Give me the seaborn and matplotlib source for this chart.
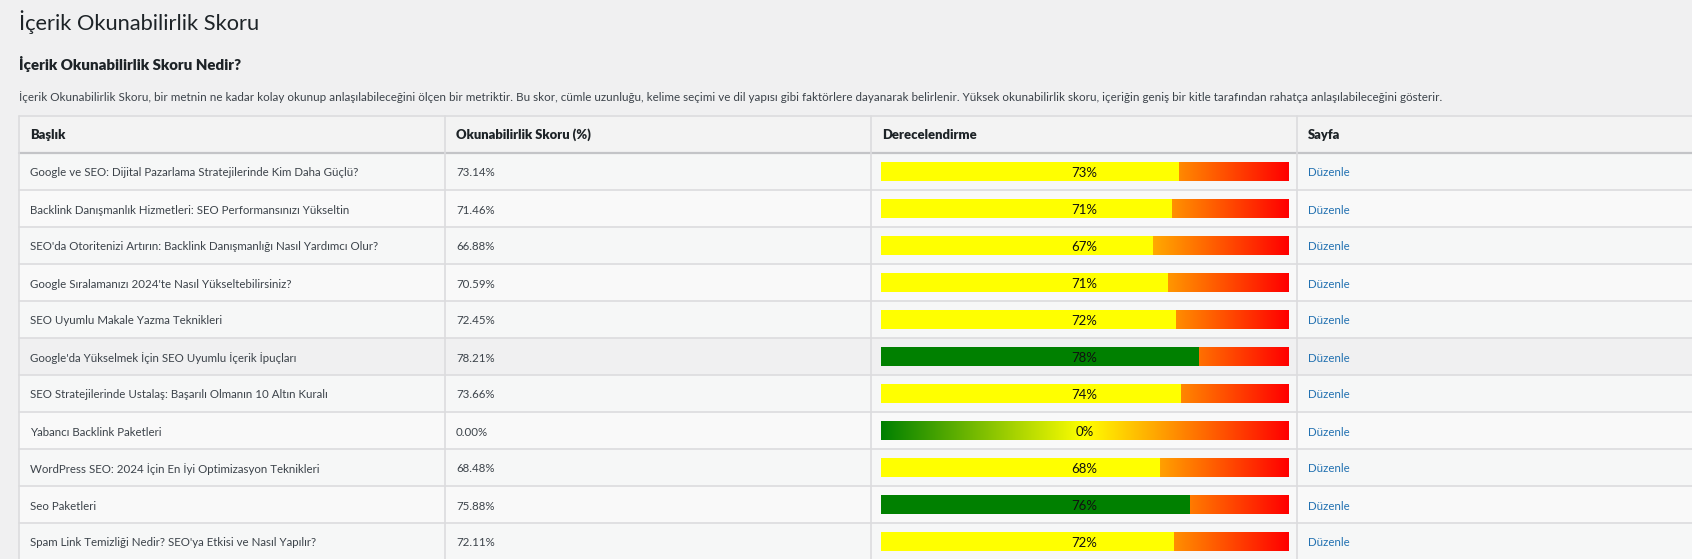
import numpy as np
import pandas as pd
import matplotlib
matplotlib.use("Agg")
import matplotlib.pyplot as plt
from matplotlib.colors import LinearSegmentedColormap
import seaborn as sns

# ---- data ----
page_title = "İçerik Okunabilirlik Skoru"
section_title = "İçerik Okunabilirlik Skoru Nedir?"
description = ("İçerik Okunabilirlik Skoru, bir metnin ne kadar kolay okunup anlaşılabileceğini ölçen bir metriktir. "
               "Bu skor, cümle uzunluğu, kelime seçimi ve dil yapısı gibi faktörlere dayanarak belirlenir. "
               "Yüksek okunabilirlik skoru, içeriğin geniş bir kitle tarafından rahatça anlaşılabileceğini gösterir.")
headers = ["Başlık", "Okunabilirlik Skoru (%)", "Derecelendirme", "Sayfa"]
titles = [
    "Google ve SEO: Dijital Pazarlama Stratejilerinde Kim Daha Güçlü?",
    "Backlink Danışmanlık Hizmetleri: SEO Performansınızı Yükseltin",
    "SEO'da Otoritenizi Artırın: Backlink Danışmanlığı Nasıl Yardımcı Olur?",
    "Google Sıralamanızı 2024'te Nasıl Yükseltebilirsiniz?",
    "SEO Uyumlu Makale Yazma Teknikleri",
    "Google'da Yükselmek İçin SEO Uyumlu İçerik İpuçları",
    "SEO Stratejilerinde Ustalaş: Başarılı Olmanın 10 Altın Kuralı",
    "Yabancı Backlink Paketleri",
    "WordPress SEO: 2024 İçin En İyi Optimizasyon Teknikleri",
    "Seo Paketleri",
    "Spam Link Temizliği Nedir? SEO'ya Etkisi ve Nasıl Yapılır?",
]
scores = [73.14, 71.46, 66.88, 70.59, 72.45, 78.21, 73.66, 0.00, 68.48, 75.88, 72.11]
link_text = "Düzenle"

df = pd.DataFrame({"title": titles, "score": scores})
df["label"] = df["score"].round().astype(int).astype(str) + "%"
df["fill"] = np.where(df["score"] >= 75, "#008000", "#ffff00")

# ---- figure / style ----
W, H = 1692, 559
sns.set_theme(style="white")
plt.rcParams["font.family"] = ["Lato", "DejaVu Sans"]

page_bg = "#f0f0f1"
fig = plt.figure(figsize=(W / 100, H / 100), dpi=100, facecolor=page_bg)
ax = fig.add_axes([0, 0, 1, 1])
ax.set_xlim(0, W)
ax.set_ylim(H, 0)
ax.axis("off")

# table geometry (pixels)
left, top, col_w, row_h = 19, 116, 426, 37
col_x = [left + i * col_w for i in range(5)]
n = len(df)
body_top = top + row_h

# header + rows backgrounds
ax.add_patch(plt.Rectangle((left, top), W, row_h, color="#f3f3f3", lw=0))
for i in range(n):
    c = "#f6f7f7" if i % 2 == 0 else "#f9f9f9"
    if i == 5:
        c = "#f0f0f1"
    ax.add_patch(plt.Rectangle((left, body_top + i * row_h), W, row_h, color=c, lw=0))

# grid lines
ax.plot([left, W], [top, top], color="#dcdcde", lw=1.2)
ax.plot([left, W], [body_top, body_top], color="#c3c4c7", lw=1.6)
for i in range(1, n + 1):
    y = body_top + i * row_h
    ax.plot([left, W], [y, y], color="#dcdcde", lw=1.2)
for x in col_x[:4]:
    ax.plot([x, x], [top, H], color="#dcdcde", lw=1.2)

renderer = fig.canvas.get_renderer()


def fit(t, target):
    w = t.get_window_extent(renderer).width
    t.set_fontsize(t.get_fontsize() * target / w)
    return t


dark = "#1d2327"
body = "#3c434a"
fit(ax.text(19, 22, page_title, fontsize=16, color=dark, va="center"), 242)
fit(ax.text(19, 64, section_title, fontsize=11, color=dark, va="center", weight="heavy"), 221)
fit(ax.text(19, 97, description, fontsize=8, color=body, va="center"), 1425)
probe = ax.text(30, -100, titles[0], fontsize=9)
fit(probe, 331)
fs = probe.get_fontsize()
probe.remove()
probe = ax.text(30, -100, headers[1], fontsize=9, weight="heavy")
fit(probe, 136)
hfs = probe.get_fontsize()
probe.remove()

pad = 11
for j, h in enumerate(headers):
    ax.text(col_x[j] + pad, top + row_h / 2 + 0.5, h, fontsize=hfs, weight="heavy", color=dark, va="center")

for i, row in df.iterrows():
    yc = body_top + i * row_h + row_h / 2 + 1.5
    ax.text(col_x[0] + pad, yc, row["title"], fontsize=fs, color=body, va="center")
    ax.text(col_x[1] + pad, yc, f"{row['score']:.2f}%", fontsize=fs, color=body, va="center")
    ax.text(col_x[3] + pad, yc, link_text, fontsize=fs, color="#2271b1", va="center")

# ---- rating bars ----
bar_l, bar_r = col_x[2] + 10, col_x[3] - 9
bx = fig.add_axes([bar_l / W, 1 - (body_top + n * row_h) / H, (bar_r - bar_l) / W, n * row_h / H])
bx.patch.set_alpha(0)
bar_h = 19 / row_h
img_h = bar_h - 0.02

grade = LinearSegmentedColormap.from_list("grade", ["#008000", "#ffff00", "#ff0000"])
grad = np.linspace(0, 1, 512)[None, :]
for i in range(n):
    bx.imshow(grad, cmap=grade, aspect="auto", extent=(0, 100, i + img_h / 2, i - img_h / 2), zorder=0)

sns.barplot(data=df, x="score", y="title", hue="title", palette=dict(zip(df["title"], df["fill"])),
            orient="h", width=bar_h, saturation=1, legend=False, errorbar=None,
            linewidth=0, ax=bx, zorder=2)
for i, row in df.iterrows():
    bx.text(50, i + 0.04, row["label"], ha="center", va="center", fontsize=fs * 1.15, color="#111111", zorder=3)

bx.set_xlim(0, 100)
bx.set_ylim(n - 0.5, -0.5)
bx.axis("off")

fig.savefig("out.png", dpi=100, facecolor=page_bg)
